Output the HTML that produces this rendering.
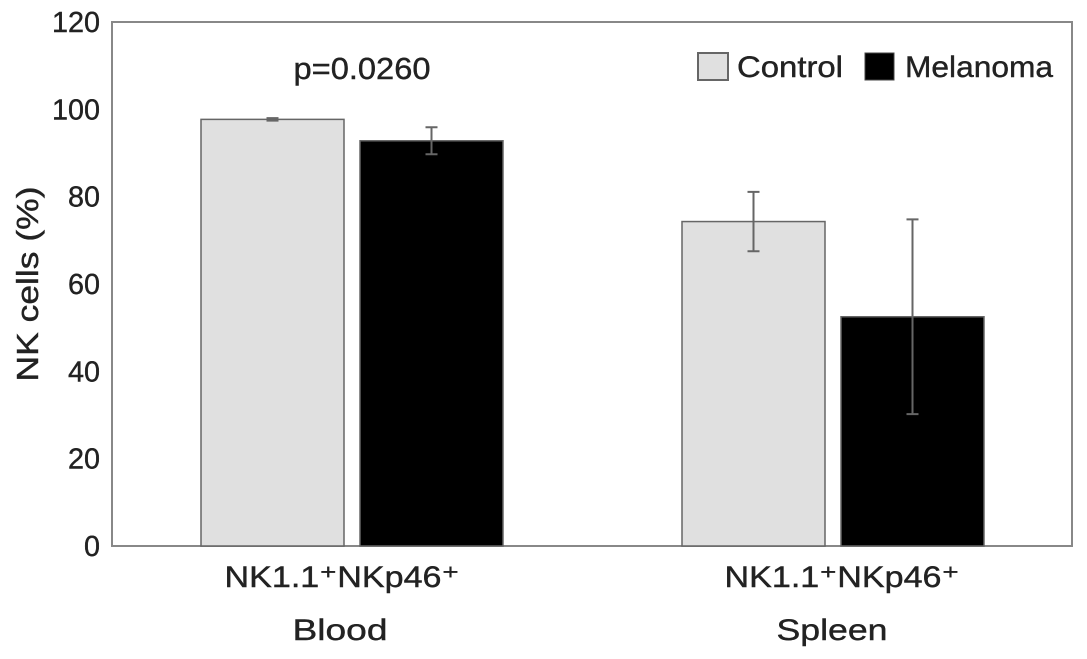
<!DOCTYPE html>
<html><head><meta charset="utf-8"><style>
body{margin:0;background:#fff;}
svg{display:block;font-family:"Liberation Sans",Arial,sans-serif;}
</style></head><body>
<svg id="chart" width="1087" height="659">
</svg>
<script>
const groups=["Blood","Spleen"];
const groupSub=["NK1.1⁺NKp46⁺","NK1.1⁺NKp46⁺"];
const controlVals=[97.7,74.3];
const controlErr=[0.3,6.8];
const melanomaVals=[92.8,52.5];
const melanomaErr=[3.1,22.3];
const yTicks=[0,20,40,60,80,100,120];
const NS="http://www.w3.org/2000/svg";
const svg=document.getElementById('chart');
const L=112,R=1072,T=22,B=546;
const y=v=>B-(v/120)*(B-T);
function mk(t,a,txt){const e=document.createElementNS(NS,t);for(const k in a)e.setAttribute(k,a[k]);if(txt!=null)e.textContent=txt;svg.appendChild(e);return e;}
const TS={fill:'#222',stroke:'#222','stroke-width':0.4,lengthAdjust:'spacingAndGlyphs'};
function txt(x,yy,s,size,len,anchor,extra){return mk('text',Object.assign({x:x,y:yy,'font-size':size,'text-anchor':anchor||'start',textLength:len},TS,extra||{}),s);}
let e=mk('rect',{x:L,y:T,width:R-L,height:B-T,fill:'none',stroke:'#888','stroke-width':2});


yTicks.forEach(t=>{
 const s=String(t);
 const tx=txt(L-12,y(t)+10,s,29,s.length*16,'end');
 
 
});
e=txt(38,284,'NK cells (%)',31,195,'middle',{transform:'rotate(-90 38 284)'});


const centers=[352,833],bw=143,gap=16;
const subX=[342,842],grpX=[340,832];
const glen=[95,111];
groups.forEach((g,i)=>{
 const c=centers[i];
 [[controlVals,controlErr,'#e0e0e0',c-gap/2-bw,'control'],[melanomaVals,melanomaErr,'#000',c+gap/2,'melanoma']].forEach(([vals,errs,fill,x,nm])=>{
  const r=mk('rect',{x:x,y:y(vals[i]),width:bw,height:B-y(vals[i]),fill:fill,stroke:'#666','stroke-width':1.5});
  
  
  const cx=x+bw/2,y1=y(vals[i]+errs[i]),y2=y(vals[i]-errs[i]);
  const eb=mk('path',{d:`M${cx} ${y1}V${y2}M${cx-6} ${y1}H${cx+6}M${cx-6} ${y2}H${cx+6}`,stroke:'#666','stroke-width':2,fill:'none'});
  
  
 });
 const s=txt(subX[i],587,groupSub[i],30,235,'middle');
 
 
 const gl=txt(grpX[i],640,g,30,glen[i],'middle');
 
 
});
e=txt(362,79,'p=0.0260',31,137,'middle');


e=mk('rect',{x:698,y:53,width:30,height:27,fill:'#e0e0e0',stroke:'#666','stroke-width':2});


e=txt(737,77,'Control',30,106);


e=mk('rect',{x:865,y:53,width:29,height:27,fill:'#000',stroke:'#444','stroke-width':1});


e=txt(905,77,'Melanoma',30,148);


</script>
</body></html>
